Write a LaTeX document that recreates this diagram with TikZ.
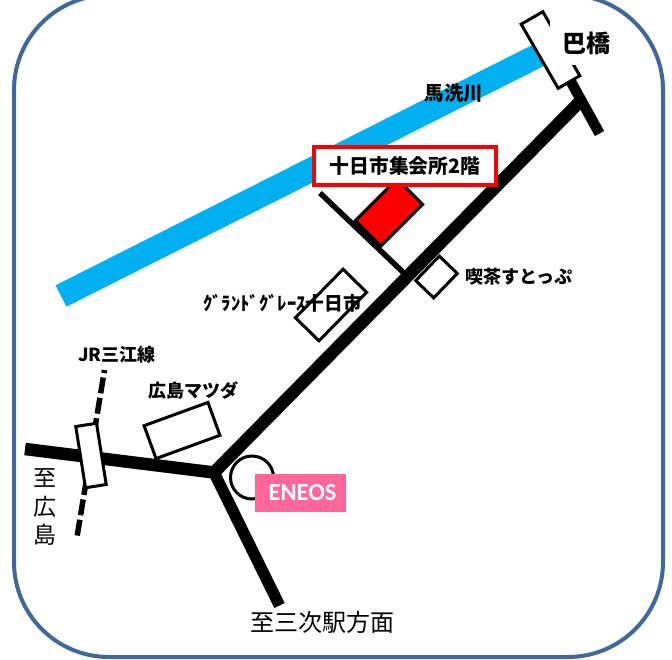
\documentclass[tikz,border=0pt]{standalone}
\usepackage{fontspec}
\setmainfont{Noto Sans CJK JP}
\newfontfamily\latinbold[BoldFont=Carlito Bold]{Carlito}
\definecolor{frameblue}{HTML}{41689A}
\definecolor{riverblue}{HTML}{00B0F0}
\definecolor{pinkbox}{HTML}{FF6699}
\tikzset{
  roadwide/.style={line width=12.5pt,black},
  roadcross/.style={line width=10.5pt,black},
  roadthin/.style={line width=5.5pt,black},
  rail/.style={line width=5.5pt,black,dash pattern=on 16pt off 4.6pt,dash phase=13pt},
  building/.style={draw=black,line width=3pt,fill=white,inner sep=0pt,outer sep=0pt,minimum width=#1},
  maplabel/.style={inner sep=0pt,font=\fontsize{18}{20}\selectfont\bfseries,black},
  plainlabel/.style={inner sep=0pt,font=\fontsize{24}{28}\selectfont,black},
}
\begin{document}
\begin{tikzpicture}[x=1pt,y=-1pt]
\useasboundingbox (0,0) rectangle (672,659);
\fill[white] (0,0) rectangle (672,659);
\draw[frameblue,line width=4pt,rounded corners=95pt] (14,-5) rectangle (663,657);
% coordinates
\coordinate (riverA) at (61,296);
\coordinate (riverB) at (545,52);
\coordinate (junction) at (214,472.5);
\coordinate (mainEnd) at (581.5,100);
\coordinate (westEnd) at (25,449);
\coordinate (southEnd) at (279.5,605.5);
\coordinate (crossA) at (570,80);
\coordinate (crossB) at (599.5,133.5);
\coordinate (sideA) at (320,193);
\coordinate (sideB) at (406,275);
\coordinate (railA) at (104.5,370);
\coordinate (railB) at (77,537);
% river
\draw[riverblue,line width=24pt] (riverA) -- (riverB);
% roads
\draw[roadthin] (sideA) -- (sideB);
\draw[roadwide] (westEnd) -- (junction);
\draw[roadwide,line width=11.5pt] (junction) -- (southEnd);
\draw[roadwide] (junction) -- (mainEnd);
\draw[roadcross] (crossA) -- (crossB);
\draw[rail] (railA) -- (railB);
% buildings
\node[building=74pt,minimum height=25pt,rotate=-60] (bridge) at (550.5,50) {};
\node[building=59pt,minimum height=36pt,rotate=45,fill=red] (hall) at (389,212.5) {};
\node[building=34pt,minimum height=25pt,rotate=46] (cafe) at (436.5,277) {};
\node[building=68pt,minimum height=33pt,rotate=45.5] (grace) at (331,305) {};
\node[building=68pt,minimum height=35pt,rotate=20] (mazda) at (182,430.5) {};
\node[building=62pt,minimum height=21pt,rotate=-81] (station) at (91,455.5) {};
\node[draw=black,line width=3pt,circle,minimum size=43pt,inner sep=0pt] (ss) at (252,477.5) {};
% labels
\node[fill=white,inner sep=0pt,minimum width=72pt,minimum height=44pt] (hashi) at (586,43) {\fontsize{24}{28}\selectfont\bfseries 巴橋};
\node[maplabel,font=\fontsize{19.5}{22}\selectfont\bfseries] (river) at (454,93) {馬洗川};
\node[draw=red,line width=3.5pt,fill=white,minimum width=182pt,minimum height=38pt,inner sep=0pt,font=\fontsize{19.8}{22}\selectfont\bfseries] (title) at (405,166) {十日市集会所2階};
\node[maplabel] (cafelabel) at (519,277) {喫茶すとっぷ};
\node[maplabel,font=\fontsize{18.7}{22}\selectfont\bfseries] (gracelabel) at (282.5,303) {ｸﾞﾗﾝﾄﾞｸﾞﾚｰｽ十日市};
\node[maplabel] (raillabel) at (117,355) {JR三江線};
\node[maplabel] (mazdalabel) at (193,391) {広島マツダ};
\node[fill=pinkbox,minimum width=91pt,minimum height=38pt,inner sep=0pt,text=white,font=\latinbold\fontsize{24.5}{26}\selectfont\bfseries] (eneos) at (300.5,493) {\hspace*{4pt}\raisebox{-3pt}{ENEOS}};
\node[plainlabel,align=center,font=\fontsize{23}{28.5}\selectfont] (westlabel) at (45,507) {至\\広\\島};
\node[plainlabel] (southlabel) at (322,622) {至三次駅方面};
\end{tikzpicture}
\end{document}
